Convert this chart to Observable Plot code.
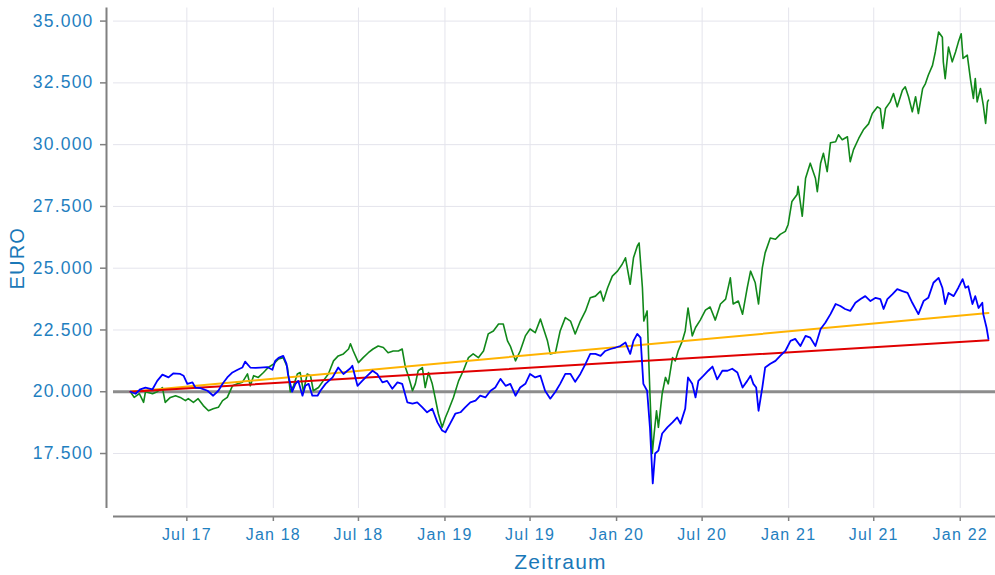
<!DOCTYPE html>
<html><head><meta charset="utf-8">
<script src="https://cdn.jsdelivr.net/npm/d3@7"></script>
<script src="https://cdn.jsdelivr.net/npm/@observablehq/plot@0.6"></script>
<style>
html,body{margin:0;padding:0;background:#fff;}
#chart svg text{letter-spacing:1.2px;}
</style></head><body><div id="chart"></div>
<script>
// ---- data ----
const xTickDates = ["2017-07-01","2018-01-01","2018-07-01","2019-01-01","2019-07-01","2020-01-01","2020-07-01","2021-01-01","2021-07-01","2022-01-01"];
const yTicks = [17500,20000,22500,25000,27500,30000,32500,35000];
const startValue = 20000;
const xDomain = ["2017-01-26","2022-03-17"];
const yDomain = [15275, 35530];
const xLabel = "Zeitraum";
const yLabel = "EURO";

const bluePts = [
["2017-03-03",20000],["2017-03-14",19920],["2017-03-24",20100],["2017-04-04",20170],["2017-04-19",20100],["2017-04-29",20440],
["2017-05-10",20690],["2017-05-23",20580],["2017-06-02",20740],["2017-06-17",20720],["2017-06-24",20650],["2017-07-02",20320],
["2017-07-13",20380],["2017-07-19",20170],["2017-07-30",20150],["2017-08-14",20040],["2017-08-26",19840],["2017-09-06",20040],
["2017-09-15",20320],["2017-09-25",20580],["2017-10-06",20780],["2017-10-17",20890],["2017-10-27",20980],["2017-11-02",21220],
["2017-11-13",20980],["2017-11-24",20970],["2017-12-04",20980],["2017-12-19",21000],["2017-12-30",20890],
["2018-01-05",21250],["2018-01-12",21370],["2018-01-22",21450],["2018-01-29",21130],["2018-02-01",20720],["2018-02-10",20000],
["2018-02-17",20320],["2018-02-23",20440],["2018-03-04",19840],["2018-03-10",20240],["2018-03-17",20320],["2018-03-25",19840],
["2018-04-05",19840],["2018-04-11",20040],["2018-04-22",20320],["2018-05-07",20580],["2018-05-19",20980],["2018-05-30",20720],
["2018-06-14",20950],["2018-06-18",21050],["2018-06-29",20240],["2018-07-09",20440],["2018-07-20",20650],["2018-07-31",20850],
["2018-08-10",20720],["2018-08-21",20380],["2018-08-31",20440],["2018-09-11",20120],["2018-09-22",20380],["2018-10-02",20320],
["2018-10-13",19570],["2018-10-24",19520],["2018-11-03",19570],["2018-11-14",19370],["2018-11-24",19170],["2018-12-05",19310],
["2018-12-16",18760],["2018-12-26",18430],
["2019-01-02",18360],["2019-01-12",18710],["2019-01-23",19110],["2019-02-03",19170],["2019-02-13",19370],["2019-02-24",19570],
["2019-03-07",19640],["2019-03-17",19840],["2019-03-28",19770],["2019-04-08",20040],["2019-04-18",20170],["2019-04-29",20520],
["2019-05-10",20240],["2019-05-20",20320],["2019-05-31",19840],["2019-06-10",20170],["2019-06-21",20320],["2019-07-01",20720],
["2019-07-12",20580],["2019-07-23",20650],["2019-08-02",20040],["2019-08-13",19720],["2019-08-24",20000],["2019-09-03",20320],
["2019-09-14",20720],["2019-09-25",20720],["2019-10-05",20400],["2019-10-16",20720],["2019-10-27",21130],["2019-11-06",21530],
["2019-11-17",21530],["2019-11-28",21450],["2019-12-08",21650],["2019-12-19",21730],["2019-12-30",21790],
["2020-01-09",21850],["2020-01-20",21990],["2020-01-30",21530],["2020-02-06",22060],["2020-02-14",22340],["2020-02-21",22190],
["2020-02-27",20320],["2020-03-06",20040],["2020-03-12",18560],["2020-03-18",16290],["2020-03-23",17500],["2020-03-30",17620],
["2020-04-07",18310],["2020-04-18",18560],["2020-04-29",18760],["2020-05-09",18960],["2020-05-16",18710],["2020-05-26",19310],
["2020-06-01",20580],["2020-06-10",20320],["2020-06-17",19770],["2020-06-23",20440],["2020-07-04",20650],["2020-07-14",20850],
["2020-07-23",21020],["2020-08-02",20500],["2020-08-13",20850],["2020-08-24",20850],["2020-09-03",20930],["2020-09-14",20780],
["2020-09-25",20170],["2020-10-05",20440],["2020-10-12",20650],["2020-10-18",20320],["2020-10-24",20170],["2020-10-29",19230],
["2020-11-06",20170],["2020-11-12",20980],["2020-11-23",21130],["2020-12-04",21250],["2020-12-14",21450],["2020-12-25",21650],
["2021-01-05",22060],["2021-01-15",22140],["2021-01-26",21850],["2021-02-06",22260],["2021-02-16",22190],["2021-02-27",21850],
["2021-03-10",22540],["2021-03-20",22790],["2021-03-31",23140],["2021-04-11",23550],["2021-04-21",23470],["2021-05-01",23350],
["2021-05-12",23270],["2021-05-23",23600],["2021-06-03",23750],["2021-06-13",23870],["2021-06-24",23670],["2021-07-05",23800],
["2021-07-15",23750],["2021-07-22",23350],["2021-07-30",23750],["2021-08-10",23950],["2021-08-20",24150],["2021-08-31",24070],
["2021-09-11",24000],["2021-09-21",23600],["2021-10-04",23140],["2021-10-15",23670],["2021-10-25",23800],["2021-11-05",24410],
["2021-11-16",24610],["2021-11-24",24210],["2021-11-30",23550],["2021-12-07",24000],["2021-12-18",23870],["2021-12-28",24210],
["2022-01-06",24560],["2022-01-12",24210],["2022-01-18",24270],["2022-01-27",23550],["2022-02-02",23870],["2022-02-09",23390],
["2022-02-17",23600],["2022-02-19",23140],["2022-02-26",22590],["2022-03-02",22140]
];

const greenPts = [
["2017-03-03",20000],["2017-03-11",19770],["2017-03-22",19920],["2017-03-31",19570],["2017-04-04",20000],["2017-04-19",19920],
["2017-04-29",20000],["2017-05-10",20170],["2017-05-16",19570],["2017-05-27",19770],["2017-06-07",19840],["2017-06-17",19770],
["2017-06-28",19640],["2017-07-04",19720],["2017-07-15",19570],["2017-07-25",19720],["2017-08-05",19440],["2017-08-16",19230],
["2017-08-26",19310],["2017-09-06",19370],["2017-09-15",19640],["2017-09-25",19770],["2017-10-06",20240],["2017-10-17",20320],
["2017-10-27",20380],["2017-11-07",20720],["2017-11-13",20240],["2017-11-20",20650],["2017-11-30",20580],["2017-12-11",20780],
["2017-12-21",20980],
["2018-01-02",21130],["2018-01-12",21330],["2018-01-22",21380],["2018-01-31",20980],["2018-02-06",20000],["2018-02-13",20240],
["2018-02-21",20720],["2018-02-27",20780],["2018-03-06",20000],["2018-03-14",20720],["2018-03-21",20650],["2018-03-27",20040],
["2018-04-07",20170],["2018-04-17",20440],["2018-04-28",20720],["2018-05-09",21250],["2018-05-19",21450],["2018-05-30",21530],
["2018-06-10",21730],["2018-06-14",21940],["2018-06-20",21650],["2018-07-01",21180],["2018-07-11",21380],["2018-07-22",21580],
["2018-08-01",21730],["2018-08-12",21850],["2018-08-23",21790],["2018-09-02",21580],["2018-09-13",21650],["2018-09-24",21650],
["2018-10-02",21730],["2018-10-09",20980],["2018-10-15",20650],["2018-10-24",20040],["2018-10-30",20320],["2018-11-05",20850],
["2018-11-14",20980],["2018-11-20",20170],["2018-11-27",20780],["2018-12-05",20320],["2018-12-11",19770],["2018-12-18",19110],
["2018-12-26",18560],
["2019-01-02",18960],["2019-01-08",19230],["2019-01-19",19770],["2019-01-30",20440],["2019-02-09",20850],["2019-02-20",21380],
["2019-03-02",21530],["2019-03-13",21380],["2019-03-24",21650],["2019-04-03",22340],["2019-04-14",22460],["2019-04-25",22740],
["2019-05-05",22740],["2019-05-14",22060],["2019-05-20",21850],["2019-05-31",21250],["2019-06-10",21650],["2019-06-21",22260],
["2019-07-01",22540],["2019-07-12",22390],["2019-07-23",22940],["2019-07-29",22590],["2019-08-07",22060],["2019-08-13",21530],
["2019-08-24",21580],["2019-09-03",22460],["2019-09-14",23000],["2019-09-25",22860],["2019-10-05",22340],["2019-10-16",22860],
["2019-10-27",23270],["2019-11-06",23800],["2019-11-17",23870],["2019-11-28",24070],["2019-12-04",23670],["2019-12-13",24210],
["2019-12-23",24680],
["2020-01-03",24880],["2020-01-13",25160],["2020-01-20",25420],["2020-01-30",24350],["2020-02-06",25420],["2020-02-14",25890],
["2020-02-18",26020],["2020-02-25",24210],["2020-02-28",22860],["2020-03-06",23270],["2020-03-09",21530],["2020-03-12",19920],
["2020-03-17",17500],["2020-03-21",18310],["2020-03-26",19230],["2020-03-30",18560],["2020-04-07",19920],["2020-04-14",20580],
["2020-04-20",20320],["2020-04-29",21380],["2020-05-05",21250],["2020-05-11",21650],["2020-05-20",22060],["2020-05-26",22460],
["2020-06-01",23390],["2020-06-10",22260],["2020-06-17",22600],["2020-06-27",22900],["2020-07-08",23300],["2020-07-18",23430],
["2020-07-29",22900],["2020-08-09",23550],["2020-08-20",23750],["2020-08-30",24610],["2020-09-05",23550],["2020-09-16",23670],
["2020-09-25",23140],["2020-10-05",24210],["2020-10-12",24880],["2020-10-22",24410],["2020-10-29",23550],["2020-11-06",25010],
["2020-11-12",25620],["2020-11-23",26220],["2020-12-04",26170],["2020-12-14",26370],["2020-12-25",26490],["2020-12-31",26770],
["2021-01-08",27700],["2021-01-19",27980],["2021-01-21",28310],["2021-01-30",27100],["2021-02-06",28640],["2021-02-16",29250],
["2021-02-27",28640],["2021-03-03",28100],["2021-03-10",29250],["2021-03-16",29650],["2021-03-24",28910],["2021-03-31",30080],
["2021-04-11",30120],["2021-04-17",30400],["2021-04-25",30200],["2021-05-06",30320],["2021-05-12",29310],["2021-05-19",29800],
["2021-05-30",30250],["2021-06-09",30600],["2021-06-20",30840],["2021-06-28",31260],["2021-07-09",31530],["2021-07-15",31460],
["2021-07-20",30660],["2021-07-26",31460],["2021-08-05",31730],["2021-08-12",32070],["2021-08-20",31530],["2021-08-31",32200],
["2021-09-06",32340],["2021-09-13",31940],["2021-09-21",31330],["2021-09-28",31940],["2021-10-04",31260],["2021-10-13",32270],
["2021-10-19",32470],["2021-10-25",32810],["2021-11-03",33210],["2021-11-09",33750],["2021-11-16",34560],["2021-11-24",34350],
["2021-11-26",33350],["2021-11-30",32670],["2021-12-07",33950],["2021-12-15",33350],["2021-12-22",33750],["2021-12-28",34150],
["2022-01-03",34490],["2022-01-07",33490],["2022-01-16",33620],["2022-01-23",32610],["2022-01-29",31870],["2022-02-02",32670],
["2022-02-06",31730],["2022-02-13",32270],["2022-02-19",31600],["2022-02-24",30860],["2022-02-28",31730],["2022-03-02",31800]
];

const orangePts = [["2017-03-03",20000],["2022-03-02",23185]];
const redPts = [["2017-03-03",20000],["2022-03-02",22081]];

// ---- chart ----
const parse = d3.utcParse("%Y-%m-%d");
const toRows = pts => pts.map(([d, v]) => ({date: parse(d), value: v}));
const blue = toRows(bluePts), green = toRows(greenPts), orange = toRows(orangePts), red = toRows(redPts);
const xTicks = xTickDates.map(parse);
const xDom = xDomain.map(parse);
const fmtY = v => d3.format(",")(v).replace(/,/g, ".");
const fmtX = d3.utcFormat("%b %y");
const textColor = "#1f80c0";
const titleColor = "#1a78b8";
const axisGray = "#808080";
const gridColor = "#e4e4ec";

const chart = Plot.plot({
  width: 995, height: 575,
  marginLeft: 113, marginRight: 0, marginTop: 7.5, marginBottom: 67,
  style: {fontFamily: "'Liberation Sans', Arial, sans-serif", background: "#fff"},
  x: {type: "utc", domain: xDom},
  y: {domain: yDomain},
  marks: [
    Plot.gridX(xTicks, {stroke: gridColor, strokeOpacity: 1}),
    Plot.gridY(yTicks, {stroke: gridColor, strokeOpacity: 1}),
    Plot.ruleX([xDom[0]], {dx: -7, stroke: axisGray, strokeWidth: 2}),
    Plot.ruleY([yDomain[0]], {dy: 8, stroke: axisGray, strokeWidth: 2}),
    Plot.axisY(yTicks, {anchor: "left", tickSize: 6, tickPadding: 7, dx: -7, tickFormat: fmtY,
      stroke: axisGray, strokeWidth: 1.5, fill: textColor, fontSize: 17.5, label: null}),
    Plot.axisX(xTicks, {anchor: "bottom", tickSize: 5, tickPadding: 7.5, dy: 8, tickFormat: fmtX,
      stroke: axisGray, strokeWidth: 1.5, fill: textColor, fontSize: 16, label: null}),
    Plot.ruleY([startValue], {stroke: "#8c8c8c", strokeWidth: 3}),
    Plot.line(green, {x: "date", y: "value", stroke: "#11881a", strokeWidth: 1.6}),
    Plot.line(orange, {x: "date", y: "value", stroke: "#ffb300", strokeWidth: 2}),
    Plot.line(red, {x: "date", y: "value", stroke: "#e00000", strokeWidth: 2}),
    Plot.line(blue, {x: "date", y: "value", stroke: "#0000ff", strokeWidth: 1.8}),
    Plot.text([yLabel], {frameAnchor: "left", dx: -96, rotate: -90, fill: titleColor, fontSize: 20, textAnchor: "middle", lineAnchor: "middle"}),
    Plot.text([xLabel], {frameAnchor: "bottom", dx: 6, dy: 54, fill: titleColor, fontSize: 21, textAnchor: "middle", lineAnchor: "middle"})
  ]
});
document.getElementById("chart").appendChild(chart);
</script>
</body></html>
